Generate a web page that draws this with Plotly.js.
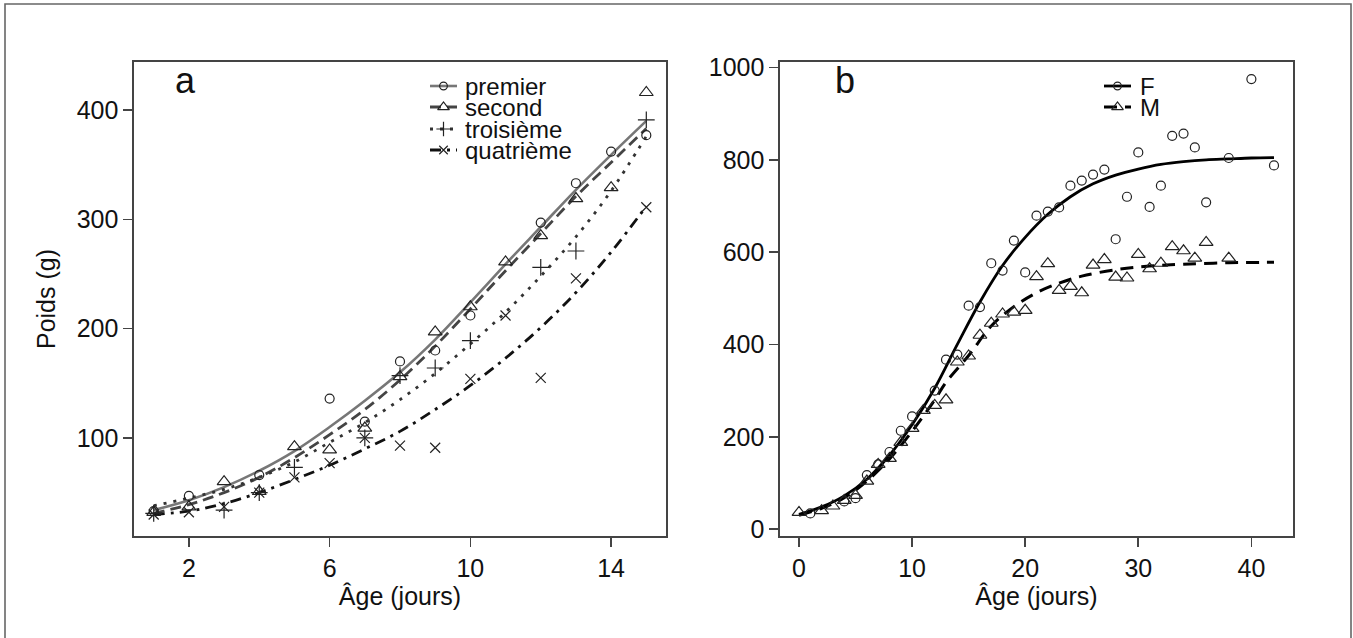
<!DOCTYPE html>
<html><head><meta charset="utf-8">
<script src="https://cdn.plot.ly/plotly-3.0.1.min.js"></script>
<style>html,body{margin:0;padding:0;background:#fff}#chart{width:1353px;height:638px}</style>
</head><body><div id="chart"></div>
<script>
// ---------- Panel a data ----------
const agesA = [1,2,3,4,5,6,7,8,9,10,11,12,13,14,15];
const premierPts   = [33, 47, null, 66, null, 136, 115, 170, 180, 212, null, 297, 333, 362, 377];
const secondPts    = [32, 37, 60, 51, 92, 89, 109, 156, 197, 220, 261, 285, 319, 329, 416];
const troisiemePts = [31, null, 34, 50, 73, null, 100, 157, 164, 189, null, 256, 271, null, 391];
const quatriemePts = [30, 32, 37, 50, 64, 77, 100, 93, 91, 154, 212, 155, 246, null, 311];
const premierFit   = [34, 43, 55, 70, 88, 110, 134, 160, 190, 224, 259, 293, 327, 359, 390];
const secondFit    = [31, 39, 50, 64, 82, 103, 126, 153, 184, 218, 253, 287, 321, 352, 383];
const troisiemeFit = [38, 45, 53, 64, 78, 96, 114, 135, 159, 186, 215, 248, 284, 326, 376];
const quatriemeFit = [30, 33, 40, 50, 62, 75, 90, 106, 126, 148, 173, 201, 233, 270, 312];
const seriesNamesA = ['premier', 'second', 'troisième', 'quatrième'];

// ---------- Panel b data ----------
const agesF = [1,4,5,6,7,8,9,10,12,13,14,15,16,17,18,19,20,21,22,23,24,25,26,27,28,29,30,31,32,33,34,35,36,38,40,42];
const poidsF = [34,60,67,117,140,167,213,244,300,367,378,484,481,576,560,625,556,679,688,697,744,755,768,779,628,720,816,698,744,852,857,827,708,804,975,788];
const agesM = [0,2,3,4,5,6,7,8,9,10,11,12,13,14,15,16,17,18,19,20,21,22,23,24,25,26,27,28,29,30,31,32,33,34,35,36,38];
const poidsM = [36,40,50,62,73,104,140,153,188,218,257,268,280,362,375,420,446,466,470,474,547,575,517,526,512,572,584,546,544,595,564,576,612,603,587,621,587];
const fitAgesF = [0,2,4,6,8,10,12,14,16,18,20,22,24,26,28,30,32,34,36,38,40,42];
const fitF     = [32,48,72,108,160,226,305,400,492,571,632,682,720,748,767,780,790,796,800,802,804,805];
const fitAgesM = [0,2,4,6,8,10,12,13,15,17,19,21,23,25,28,31,34,38,42];
const fitM     = [30,45,68,104,152,212,280,318,376,440,482,512,533,548,562,570,574,577,578];
const seriesNamesB = ['F', 'M'];

const FONT = 'Liberation Sans, Arial, sans-serif';
const AX = '#444';
const W = 1353, H = 638;
const px = v => v / W, py = v => 1 - v / H;

// styles
const stA = [
  {line:{color:'#777', width:2.6, dash:'solid'}, sym:'circle-open', size:9},
  {line:{color:'#444', width:2.8, dash:'11px,6px'}, sym:'triangle-up-open', size:12},
  {line:{color:'#333', width:2.8, dash:'3px,7px'}, sym:'cross-thin-open', size:12},
  {line:{color:'#111', width:2.8, dash:'11px,6px,3px,6px'}, sym:'x-thin-open', size:10}
];
const ptsA = [premierPts, secondPts, troisiemePts, quatriemePts];
const fitsA = [premierFit, secondFit, troisiemeFit, quatriemeFit];

const traces = [];
fitsA.forEach((f, i) => traces.push({x: agesA, y: f, type:'scatter', mode:'lines', line:Object.assign({shape:'spline'}, stA[i].line), xaxis:'x', yaxis:'y', showlegend:false, hoverinfo:'skip'}));
ptsA.forEach((p, i) => traces.push({x: agesA, y: p, type:'scatter', mode:'markers', name: seriesNamesA[i],
  marker:{symbol: stA[i].sym, size: stA[i].size, color:'#222', line:{color:'#222', width:1.2}}, xaxis:'x', yaxis:'y', showlegend:false}));

const stB = [
  {line:{color:'#000', width:2.8, dash:'solid'}, sym:'circle-open', size:9},
  {line:{color:'#000', width:3, dash:'13px,8px'}, sym:'triangle-up-open', size:12}
];
traces.push({x: fitAgesF, y: fitF, type:'scatter', mode:'lines', line:Object.assign({shape:'spline'}, stB[0].line), xaxis:'x2', yaxis:'y2', showlegend:false, hoverinfo:'skip'});
traces.push({x: fitAgesM, y: fitM, type:'scatter', mode:'lines', line:Object.assign({shape:'spline'}, stB[1].line), xaxis:'x2', yaxis:'y2', showlegend:false, hoverinfo:'skip'});
traces.push({x: agesF, y: poidsF, type:'scatter', mode:'markers', name: seriesNamesB[0], marker:{symbol:stB[0].sym, size:stB[0].size, color:'#222', line:{color:'#222', width:1.2}}, xaxis:'x2', yaxis:'y2', showlegend:false});
traces.push({x: agesM, y: poidsM, type:'scatter', mode:'markers', name: seriesNamesB[1], marker:{symbol:stB[1].sym, size:stB[1].size, color:'#222', line:{color:'#222', width:1.2}}, xaxis:'x2', yaxis:'y2', showlegend:false});

// manual legends drawn on a pixel-coordinate helper axis (x3/y3)
const annotations = [];
function legendRow(name, st, cy, x0, x1, tx) {
  traces.push({x:[x0, x1], y:[cy, cy], type:'scatter', mode:'lines', line:{color: st.line.color, width: st.line.width, dash: st.line.dash}, xaxis:'x3', yaxis:'y3', showlegend:false, hoverinfo:'skip'});
  traces.push({x:[(x0+x1)/2], y:[cy], type:'scatter', mode:'markers', marker:{symbol: st.sym, size: st.size*0.85, color:'#222', line:{color:'#222', width:1.2}}, xaxis:'x3', yaxis:'y3', showlegend:false, hoverinfo:'skip'});
  annotations.push({x: tx, y: cy, xref:'x3', yref:'y3', text: name, showarrow:false, xanchor:'left', yanchor:'middle', font:{family:FONT, size:24, color:'#111'}});
}
const legendRowsA = [86, 107, 129, 150];
seriesNamesA.forEach((n, i) => legendRow(n, stA[i], legendRowsA[i], 430, 457, 463));
const legendRowsB = [86, 107];
seriesNamesB.forEach((n, i) => legendRow(n, stB[i], legendRowsB[i], 1104, 1131, 1138));

annotations.push({x: 185, y: 80, xref:'x3', yref:'y3', text:'a', showarrow:false, font:{family:FONT, size:36, color:'#111'}});
annotations.push({x: 845, y: 80, xref:'x3', yref:'y3', text:'b', showarrow:false, font:{family:FONT, size:36, color:'#111'}});

const axBase = {showgrid:false, zeroline:false, showline:true, mirror:true, linecolor:AX, linewidth:1.6,
  ticks:'outside', ticklen:9, tickwidth:1.6, tickcolor:AX, tickfont:{family:FONT, size:25, color:'#111'}, automargin:false};
const domY = [py(536), py(62)];
const layout = {
  width: W, height: H, margin:{l:0, r:0, t:0, b:0}, paper_bgcolor:'#fff', plot_bgcolor:'rgba(0,0,0,0)',
  showlegend:false,
  xaxis: Object.assign({}, axBase, {domain:[px(134), px(666)], range:[0.44, 15.56], tickvals:[2,6,10,14], anchor:'y',
    title:{text:'Âge (jours)', font:{family:FONT, size:25, color:'#111'}, standoff:6}}),
  yaxis: Object.assign({}, axBase, {domain: domY, range:[10.3, 443.9], tickvals:[100,200,300,400], anchor:'x',
    title:{text:'Poids (g)', font:{family:FONT, size:25, color:'#111'}, standoff:14}}),
  xaxis2: Object.assign({}, axBase, {domain:[px(780), px(1293)], range:[-1.68, 43.68], tickvals:[0,10,20,30,40], anchor:'y2',
    title:{text:'Âge (jours)', font:{family:FONT, size:25, color:'#111'}, standoff:6}}),
  yaxis2: Object.assign({}, axBase, {domain: domY, range:[-15, 1012], tickvals:[0,200,400,600,800,1000], anchor:'x2'}),
  xaxis3: {domain:[0,1], range:[0, W], visible:false, fixedrange:true, anchor:'y3'},
  yaxis3: {domain:[0,1], range:[H, 0], visible:false, fixedrange:true, anchor:'x3'},
  annotations: annotations,
  shapes: [{type:'rect', xref:'paper', yref:'paper', x0:px(5), x1:px(1351), y0:py(4), y1:-0.05, line:{color:'#666', width:1.6}, fillcolor:'rgba(0,0,0,0)', layer:'above'}]
};
Plotly.newPlot('chart', traces, layout, {displayModeBar:false, staticPlot:true});
</script>
</body></html>
